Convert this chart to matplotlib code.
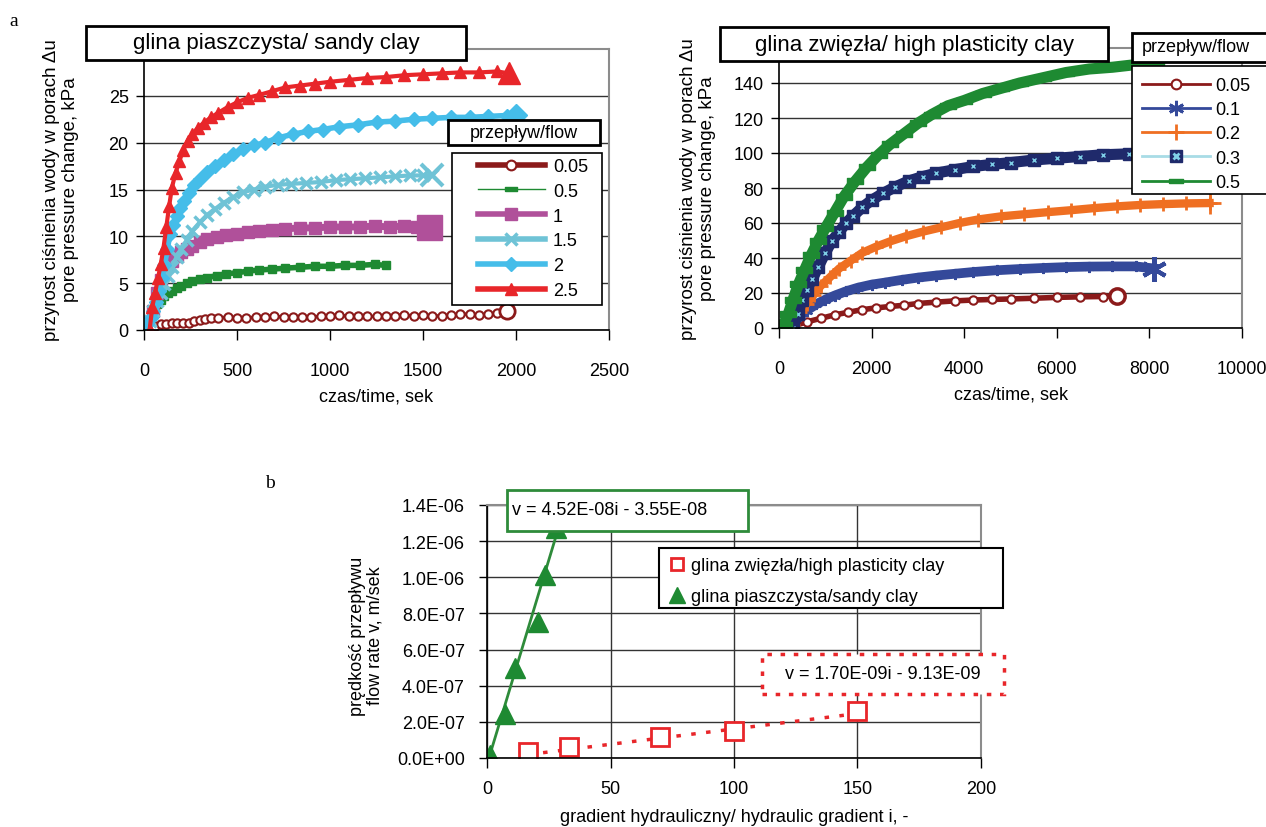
import matplotlib
matplotlib.use('Agg')
import matplotlib.pyplot as plt
from matplotlib.lines import Line2D
from matplotlib.patches import Rectangle
import numpy as np

plt.rcParams['font.family'] = ['Liberation Sans', 'DejaVu Sans']

W, H = 1266, 828

# --- a: sandy clay (glina piaszczysta), flow series ---
sc_labels = ['0.05', '0.5', '1', '1.5', '2', '2.5']
sc_t005 = [30, 60, 90, 120, 150, 180, 210, 240, 270, 300, 330, 360, 400, 450, 500, 550, 600, 650,
           700, 750, 800, 850, 900, 950, 1000, 1050, 1100, 1150, 1200, 1250, 1300, 1350, 1400, 1450,
           1500, 1550, 1600, 1650, 1700, 1750, 1800, 1850, 1900, 1950]
sc_v005 = [0.1, 0.4, 0.6, 0.65, 0.7, 0.7, 0.75, 0.8, 1.0, 1.1, 1.2, 1.3, 1.25, 1.4, 1.3, 1.3, 1.35, 1.4,
           1.5, 1.35, 1.4, 1.4, 1.4, 1.45, 1.5, 1.6, 1.45, 1.45, 1.45, 1.45, 1.5, 1.5, 1.6, 1.5,
           1.6, 1.5, 1.5, 1.6, 1.7, 1.7, 1.6, 1.7, 1.8, 2.0]
sc_t05 = [5, 30, 50, 70, 90, 110, 130, 150, 175, 200, 230, 260, 300, 340, 390, 440, 500, 560, 620,
          690, 760, 840, 920, 1000, 1080, 1160, 1240, 1300]
sc_v05 = [0.3, 1.0, 2.0, 2.8, 3.2, 3.6, 3.9, 4.2, 4.5, 4.7, 5.0, 5.2, 5.4, 5.6, 5.8, 6.0, 6.1, 6.3, 6.4,
          6.5, 6.6, 6.7, 6.8, 6.8, 6.9, 6.9, 7.0, 6.9]
sc_t1 = [50, 70, 90, 110, 130, 150, 175, 200, 230, 260, 300, 340, 390, 440, 500, 560, 620, 690, 760,
         840, 920, 1000, 1080, 1160, 1240, 1320, 1400, 1470, 1530]
sc_v1 = [2.0, 4.0, 5.3, 6.2, 6.9, 7.4, 7.9, 8.3, 8.7, 9.0, 9.4, 9.7, 9.9, 10.1, 10.3, 10.5, 10.6, 10.7,
         10.8, 10.9, 10.9, 11.0, 11.0, 11.0, 11.1, 11.0, 11.1, 11.0, 11.0]
sc_t15 = [30, 50, 70, 90, 110, 130, 150, 175, 200, 230, 260, 300, 340, 380, 430, 480, 530, 590, 650,
          720, 790, 870, 950, 1030, 1110, 1190, 1270, 1350, 1430, 1500, 1550]
sc_v15 = [1.0, 2.0, 3.1, 4.0, 4.9, 5.8, 6.7, 7.8, 8.7, 9.6, 10.6, 11.5, 12.3, 12.9, 13.6, 14.2, 14.7,
          15.0, 15.3, 15.5, 15.6, 15.7, 15.8, 16.0, 16.1, 16.2, 16.3, 16.4, 16.5, 16.5, 16.5]
sc_t2 = [15, 35, 50, 65, 80, 95, 110, 125, 140, 155, 175, 195, 215, 240, 270, 300, 340, 380, 430, 480,
         530, 590, 650, 720, 800, 880, 960, 1050, 1150, 1250, 1350, 1450, 1550, 1650, 1750, 1850, 1950, 2000]
sc_v2 = [0.6, 1.3, 2.0, 3.0, 4.2, 5.5, 6.9, 8.6, 10.3, 11.2, 12.2, 13.0, 13.8, 14.6, 15.5, 16.1, 16.9,
         17.5, 18.2, 18.8, 19.3, 19.7, 20.0, 20.5, 20.9, 21.2, 21.4, 21.7, 21.9, 22.2, 22.3, 22.5, 22.6,
         22.7, 22.7, 22.8, 22.9, 23.0]
sc_t25 = [30, 45, 60, 75, 90, 105, 120, 135, 150, 170, 190, 210, 235, 260, 290, 320, 360, 400, 450, 500,
          560, 620, 690, 760, 840, 920, 1000, 1100, 1200, 1300, 1400, 1500, 1600, 1700, 1800, 1900, 1960]
sc_v25 = [0.0, 2.5, 4.0, 5.5, 7.0, 8.8, 11.0, 13.2, 15.2, 16.8, 18.0, 19.2, 20.2, 20.9, 21.6, 22.1, 22.7,
          23.2, 23.8, 24.3, 24.8, 25.1, 25.5, 25.9, 26.1, 26.3, 26.5, 26.7, 26.9, 27.0, 27.2, 27.3, 27.4,
          27.5, 27.5, 27.6, 27.4]

# --- a: high plasticity clay (glina zwiezla), flow series ---
hp_labels = ['0.05', '0.1', '0.2', '0.3', '0.5']
hp_t005 = [300, 600, 900, 1200, 1500, 1800, 2100, 2400, 2700, 3000, 3400, 3800, 4200, 4600, 5000, 5500,
           6000, 6500, 7000, 7300]
hp_v005 = [1, 3.5, 5.5, 7.5, 9, 10.5, 11.5, 12.3, 13, 14, 14.8, 15.5, 16, 16.3, 16.6, 17, 17.5, 17.8,
           18, 18.3]
hp_t01 = [300, 450, 600, 800, 1000, 1200, 1450, 1700, 2000, 2300, 2650, 3000, 3400, 3800, 4200, 4700,
          5200, 5700, 6200, 6700, 7200, 7700, 8100]
hp_v01 = [3, 7, 10, 13.5, 16.2, 18.5, 21, 23, 24.8, 26, 27.5, 28.8, 30, 31, 32, 33, 33.7, 34.3, 34.8,
          35.1, 35.2, 35.2, 34]
hp_t02 = [300, 450, 600, 750, 900, 1100, 1300, 1550, 1800, 2100, 2400, 2750, 3100, 3500, 3900, 4300,
          4800, 5300, 5800, 6300, 6800, 7300, 7800, 8300, 8800, 9300]
hp_v02 = [2, 9, 14, 19, 24, 29, 34, 38.5, 43, 46.5, 49.5, 52.5, 55, 57.5, 60, 62, 63.8, 65, 66.2, 67.3,
          68.5, 69.5, 70.3, 70.8, 71.2, 71.4]
hp_t03 = [0, 150, 300, 400, 500, 600, 720, 850, 1000, 1150, 1300, 1450, 1600, 1800, 2000, 2250, 2500,
          2800, 3100, 3400, 3800, 4200, 4600, 5000, 5500, 6000, 6500, 7000, 7550]
hp_v03 = [-1, -1, 0, 8, 16, 22, 28, 35, 43, 50, 55, 60, 64, 69, 73, 77, 80.5, 84, 86.5, 88.5, 90.5,
          92.3, 93.5, 94.5, 96, 97, 98, 99, 99.5]
hp_t05 = [0, 100, 200, 300, 420, 550, 700, 850, 1000, 1200, 1400, 1650, 1900, 2150, 2400, 2700, 3000,
          3300, 3650, 4000, 4400, 4800, 5200, 5700, 6200, 6700, 7200, 7700, 8150]
hp_v05 = [1.5, 2, 8, 16, 25, 33, 42, 50, 57, 66, 75, 84, 92, 99, 105, 111, 117, 122, 127, 130, 134, 137,
          140, 143, 146, 148, 149, 150.5, 151]

# --- b: flow rate vs hydraulic gradient ---
hpc_i = [16.7, 33.3, 70, 100, 150]
hpc_v = [3.3e-8, 6.0e-8, 1.15e-7, 1.52e-7, 2.6e-7]
sdc_i = [1.4, 7.2, 11.3, 20.7, 23.3, 28.0]
sdc_v = [1.5e-8, 2.45e-7, 5.0e-7, 7.55e-7, 1.01e-6, 1.27e-6]
fit_sdc = (4.52e-8, -3.55e-8)
fit_hpc = (1.70e-9, -9.13e-9)

fig = plt.figure(figsize=(W / 100, H / 100), dpi=100)


def fx(x):
    return x / W


def fy(y):
    return 1 - y / H


def box(x0, y0, x1, y1, ec='black', lw=2, ls='-'):
    fig.patches.append(Rectangle((fx(x0), fy(y1)), (x1 - x0) / W, (y1 - y0) / H,
                                 transform=fig.transFigure, fc='white', ec=ec, lw=lw, ls=ls, zorder=5))


def style_axes(ax, xpad=16, ypad=5):
    for s in ['top', 'right']:
        ax.spines[s].set_color('#8c8c8c')
        ax.spines[s].set_linewidth(1.5)
    for s in ['left', 'bottom']:
        ax.spines[s].set_color('black')
        ax.spines[s].set_linewidth(1.2)
    ax.tick_params(axis='x', direction='out', length=7, width=1, pad=xpad, labelsize=13)
    ax.tick_params(axis='y', direction='out', length=6, width=1, pad=ypad, labelsize=13)
    ax.set_axisbelow(True)


def legend_at(handles, labels, x, y, hlen, tpad, lspace):
    leg = fig.legend(handles, labels, loc='upper left', bbox_to_anchor=(fx(x), fy(y)),
                     bbox_transform=fig.transFigure, fontsize=13, frameon=False,
                     handlelength=hlen, handletextpad=tpad, labelspacing=lspace,
                     borderpad=0, borderaxespad=0, numpoints=1)
    leg.set_zorder(7)
    return leg


rect_marker = [(-1.5, -0.5), (1.5, -0.5), (1.5, 0.5), (-1.5, 0.5), (-1.5, -0.5)]
c_dred = '#8b1a1a'
c_green = '#1e8a32'

# ---------------- top-left ----------------
ax1 = fig.add_axes([fx(144), fy(331), 465 / W, 281 / H])
style_axes(ax1)
ax1.grid(axis='y', color='#333333', lw=1)
ax1.plot(sc_t005, sc_v005, color=c_dred, lw=2.5, marker='o', ms=6, mfc='white', mec=c_dred, mew=1.5)
ax1.plot(sc_t05, sc_v05, color=c_green, lw=4, marker='s', ms=6, mec=c_green)
ax1.plot(sc_t1, sc_v1, color='#b0509a', lw=5, marker='s', ms=8)
ax1.plot(sc_t15, sc_v15, color='#6fc3d6', lw=3, marker='x', ms=9, mew=2.5)
ax1.plot(sc_t2, sc_v2, color='#45bde9', lw=4, marker='D', ms=7)
ax1.plot(sc_t25, sc_v25, color='#e8262a', lw=3, marker='^', ms=9)
# larger markers at series ends
ax1.plot(sc_t005[-1], sc_v005[-1], marker='o', ms=11, mfc='white', mec=c_dred, mew=2)
ax1.plot(sc_t1[-1], sc_v1[-1], marker='s', ms=18, color='#b0509a')
ax1.plot(sc_t15[-1], sc_v15[-1], marker='x', ms=16, mew=3, color='#6fc3d6')
ax1.plot(sc_t2[-1], sc_v2[-1], marker='D', ms=11, color='#45bde9')
ax1.plot(sc_t25[-1], sc_v25[-1], marker='^', ms=16, color='#e8262a')
ax1.set_xlim(0, 2500)
ax1.set_ylim(0, 30)
ax1.set_xticks(np.arange(0, 2501, 500))
ax1.set_yticks(np.arange(0, 26, 5))

h1 = [Line2D([], [], color=c_dred, lw=4, marker='o', ms=7, mfc='white', mec=c_dred, mew=1.5),
      Line2D([], [], color=c_green, lw=1, marker=rect_marker, ms=9),
      Line2D([], [], color='#b0509a', lw=4, marker='s', ms=8),
      Line2D([], [], color='#6fc3d6', lw=4, marker='x', ms=9, mew=2.5),
      Line2D([], [], color='#45bde9', lw=4, marker='D', ms=7),
      Line2D([], [], color='#e8262a', lw=4, marker='^', ms=9)]
box(452, 154, 602, 306, lw=1.2)
legend_at(h1, sc_labels, 478, 159, 3.7, 0.45, 0.43)

# ---------------- top-right ----------------
ax2 = fig.add_axes([fx(779), fy(329), 463 / W, 280 / H])
style_axes(ax2)
ax2.grid(axis='y', color='#333333', lw=1)
ax2.plot(hp_t005, hp_v005, color=c_dred, lw=4, marker='o', ms=6, mfc='white', mec=c_dred, mew=1.5)
ax2.plot(hp_t01, hp_v01, color='#34499a', lw=7, marker=(6, 2, 0), ms=8, mew=1.5, mec='#34499a')
ax2.plot(hp_t02, hp_v02, color='#ef6f22', lw=6, marker='+', ms=10, mew=2, mec='#ef6f22')
ax2.plot(hp_t03, hp_v03, color='#1f2a6b', lw=8, marker='s', ms=8, mec='#1f2a6b')
ax2.plot(hp_t03, hp_v03, ls='none', marker='x', ms=3, mew=1, color='#7fd0e8')
ax2.plot(hp_t05, hp_v05, color=c_green, lw=8, marker=rect_marker, ms=11, mec=c_green)
ax2.plot(hp_t005[-1], hp_v005[-1], marker='o', ms=11, mfc='white', mec=c_dred, mew=2.5)
ax2.plot(hp_t01[-1], hp_v01[-1], marker=(6, 2, 0), ms=18, mew=3, mec='#34499a')
ax2.plot(hp_t02[-1], hp_v02[-1], marker='+', ms=16, mew=2, mec='#ef6f22')
ax2.set_xlim(0, 10000)
ax2.set_ylim(0, 160)
ax2.set_xticks(np.arange(0, 10001, 2000))
ax2.set_yticks(np.arange(0, 141, 20))

h2 = [Line2D([], [], color=c_dred, lw=2, marker='o', ms=7, mfc='white', mec=c_dred, mew=1.5),
      Line2D([], [], color='#34499a', lw=2, marker=(6, 2, 0), ms=11, mew=2, mec='#34499a'),
      Line2D([], [], color='#ef6f22', lw=2, marker='+', ms=12, mew=2, mec='#ef6f22'),
      (Line2D([], [], color='#a8dce6', lw=2, marker='s', ms=9, mfc='#1f2a6b', mec='#1f2a6b'),
       Line2D([], [], ls='none', marker='x', ms=5, mew=2, color='#7fd0e8')),
      Line2D([], [], color=c_green, lw=2, marker=rect_marker, ms=10)]
box(1132, 67, 1275, 195, lw=1.2)
legend_at(h2, hp_labels, 1142, 78, 3.75, 0.33, 0.40)

# ---------------- bottom ----------------
ax3 = fig.add_axes([fx(487), fy(759), 494 / W, 253 / H])
style_axes(ax3, xpad=9, ypad=10)
ax3.grid(axis='both', color='#333333', lw=1)
i_s = np.array([min(sdc_i), max(sdc_i)])
ax3.plot(i_s, fit_sdc[0] * i_s + fit_sdc[1], color='#2e8b3a', lw=2)
i_h = np.array([min(hpc_i), max(hpc_i)])
ax3.plot(i_h, fit_hpc[0] * i_h + fit_hpc[1], color='#e8262a', lw=2.5, ls=(0, (1.3, 3)))
ax3.plot(hpc_i, hpc_v, ls='none', marker='s', ms=13, mfc='white', mec='#e8262a', mew=2)
ax3.plot(sdc_i, sdc_v, ls='none', marker='^', ms=15, color='#1e8a32')
ax3.set_xlim(0, 200)
ax3.set_ylim(0, 1.4e-6)
ax3.set_xticks(np.arange(0, 201, 50))
yt = np.arange(0, 8) * 2e-7
ax3.set_yticks(yt)
ax3.set_yticklabels(['{:.1E}'.format(v) for v in yt])

h3 = [Line2D([], [], ls='none', marker='s', ms=8, mfc='white', mec='#e8262a', mew=2),
      Line2D([], [], ls='none', marker='^', ms=11, color='#1e8a32')]
box(659, 549, 1003, 609, lw=1.5)
legend_at(h3, ['glina zwięzła/high plasticity clay', 'glina piaszczysta/sandy clay'],
          669, 558, 0.9, 0.3, 0.77)

# ---------------- texts and boxes ----------------
fig.text(fx(14), fy(22), 'a', family='Liberation Serif', fontsize=14, ha='center', va='center')
fig.text(fx(270), fy(484), 'b', family='Liberation Serif', fontsize=14, ha='center', va='center')

ylab = 'przyrost ciśnienia wody w porach Δu\npore pressure change, kPa'
fig.text(fx(61), fy(190), ylab, rotation=90, ha='center', va='center', fontsize=13.5, linespacing=1.1)
fig.text(fx(698), fy(189), ylab, rotation=90, ha='center', va='center', fontsize=13.5, linespacing=1.1)
fig.text(fx(366), fy(636), 'prędkość przepływu\nflow rate v, m/sek', rotation=90, ha='center',
         va='center', fontsize=13, linespacing=1.05)

fig.text(fx(376), fy(397), 'czas/time, sek', ha='center', va='center', fontsize=13)
fig.text(fx(1011), fy(395), 'czas/time, sek', ha='center', va='center', fontsize=13)
fig.text(fx(734), fy(818), 'gradient hydrauliczny/ hydraulic gradient i, -', ha='center',
         va='center', fontsize=13)

box(86, 27, 466, 61)
fig.text(fx(276), fy(44), 'glina piaszczysta/ sandy clay', ha='center', va='center', fontsize=16, zorder=6)
box(720, 28, 1108, 62)
fig.text(fx(914), fy(45), 'glina zwięzła/ high plasticity clay', ha='center', va='center', fontsize=16,
         zorder=6)
box(448, 121, 600, 146)
fig.text(fx(524), fy(133), 'przepływ/flow', ha='center', va='center', fontsize=13, zorder=6)
box(1132, 34, 1275, 63)
fig.text(fx(1142), fy(48), 'przepływ/flow', ha='left', va='center', fontsize=13, zorder=6)

box(507, 491, 748, 532, ec='#2e8b3a', lw=2)
fig.text(fx(512), fy(511), 'v = 4.52E-08i - 3.55E-08', ha='left', va='center', fontsize=13, zorder=6)
box(762, 655, 1004, 695, ec='#e8262a', lw=2.5, ls=(0, (1.3, 2.5)))
fig.text(fx(883), fy(675), 'v = 1.70E-09i - 9.13E-09', ha='center', va='center', fontsize=13, zorder=6)

fig.savefig('out.png', dpi=100)
